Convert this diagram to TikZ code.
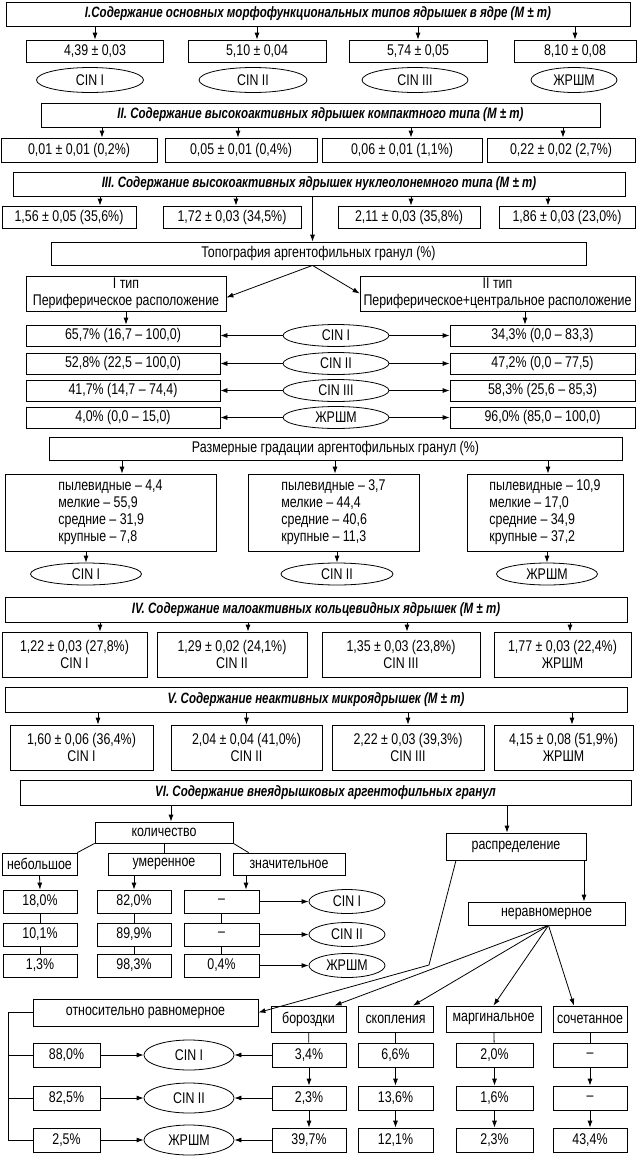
\documentclass[tikz,border=0pt]{standalone}
\usepackage{fontspec}
\setmainfont{Liberation Sans}[FakeStretch=0.8]
\newfontfamily\ttlfont{Liberation Sans}[FakeStretch=0.77]
\usetikzlibrary{shapes.geometric,arrows.meta}

\begin{document}
\begin{tikzpicture}[x=1pt, y=-1pt,
    box/.style={draw, line width=0.8pt, inner sep=1pt, align=center,
      font=\fontsize{15.5}{17}\selectfont},
    ttl/.style={box, font=\ttlfont\fontsize{15}{17}\selectfont\bfseries\itshape},
    oval/.style={draw, ellipse, line width=0.8pt, inner sep=0pt,
      font=\fontsize{15.5}{17}\selectfont},
    arr/.style={-{Latex[length=7pt, width=5pt]}, line width=0.8pt},
    ln/.style={line width=0.8pt}]

  \fill[white] (0,0) rectangle (638,1168);
  \useasboundingbox (0,0) rectangle (638,1168);

  % I. Main types
  \node[ttl, minimum width=624, minimum height=24] (tI) at (318,14)
    {I.Содержание основных морфофункциональных типов ядрышек в ядре (M ± m)};
  \node[box, minimum width=137, minimum height=22] (vI1) at (95,51) {4,39 ± 0,03};
  \node[box, minimum width=138, minimum height=22] (vI2) at (257,51) {5,10 ± 0,04};
  \node[box, minimum width=138, minimum height=22] (vI3) at (418,51) {5,74 ± 0,05};
  \node[box, minimum width=122, minimum height=22] (vI4) at (575,51) {8,10 ± 0,08};
  \node[oval, minimum width=107, minimum height=25] (eI1) at (90,80) {CIN I};
  \node[oval, minimum width=108, minimum height=25] (eI2) at (253,80) {CIN II};
  \node[oval, minimum width=106, minimum height=25] (eI3) at (415,80) {CIN III};
  \node[oval, minimum width=86, minimum height=25] (eI4) at (574,80) {ЖРШМ};

  \draw[arr] (tI.south -| vI1) -- (vI1.north);
  \draw[arr] (tI.south -| vI2) -- (vI2.north);
  \draw[arr] (tI.south -| vI3) -- (vI3.north);
  \draw[arr] (tI.south -| vI4) -- (vI4.north);

  % II. Compact type
  \node[ttl, minimum width=559, minimum height=24] (tII) at (320.5,115)
    {II. Содержание высокоактивных ядрышек компактного типа (M ± m)};
  \node[box, minimum width=156, minimum height=24] (vII1) at (79,150) {0,01 ± 0,01 (0,2\%)};
  \node[box, minimum width=152, minimum height=24] (vII2) at (241,150) {0,05 ± 0,01 (0,4\%)};
  \node[box, minimum width=160, minimum height=24] (vII3) at (402,150) {0,06 ± 0,01 (1,1\%)};
  \node[box, minimum width=148, minimum height=24] (vII4) at (561,150) {0,22 ± 0,02 (2,7\%)};

  \coordinate (aII1) at ([xshift=23pt]vII1.north);
  \coordinate (aII2) at ([xshift=-3pt]vII2.north);
  \coordinate (aII3) at ([xshift=9pt]vII3.north);
  \coordinate (aII4) at ([xshift=2pt]vII4.north);
  \draw[arr] (tII.south -| aII1) -- (aII1);
  \draw[arr] (tII.south -| aII2) -- (aII2);
  \draw[arr] (tII.south -| aII3) -- (aII3);
  \draw[arr] (tII.south -| aII4) -- (aII4);

  % III. Nucleolonema type
  \node[ttl, minimum width=612, minimum height=24] (tIII) at (319,184)
    {III. Содержание высокоактивных ядрышек нуклеолонемного типа (M ± m)};
  \node[box, minimum width=134, minimum height=22] (vIII1) at (69,217) {1,56 ± 0,05 (35,6\%)};
  \node[box, minimum width=138, minimum height=22] (vIII2) at (232,217) {1,72 ± 0,03 (34,5\%)};
  \node[box, minimum width=142, minimum height=22] (vIII3) at (409,217) {2,11 ± 0,03 (35,8\%)};
  \node[box, minimum width=136, minimum height=22] (vIII4) at (567,217) {1,86 ± 0,03 (23,0\%)};

  \coordinate (aIII1) at ([xshift=31pt]vIII1.north);
  \coordinate (aIII2) at ([xshift=4pt]vIII2.north);
  \coordinate (aIII3) at ([xshift=2pt]vIII3.north);
  \coordinate (aIII4) at ([xshift=-19pt]vIII4.north);
  \draw[arr] (tIII.south -| aIII1) -- (aIII1);
  \draw[arr] (tIII.south -| aIII2) -- (aIII2);
  \draw[arr] (tIII.south -| aIII3) -- (aIII3);
  \draw[arr] (tIII.south -| aIII4) -- (aIII4);

  % Topography of granules
  \node[box, minimum width=535, minimum height=23] (topo) at (318.5,253.5)
    {Топография аргентофильных гранул (\%)};
  \coordinate (tp) at ([xshift=-6pt]topo.south);
  \draw[arr] (tIII.south -| tp) -- (topo.north -| tp);

  \node[box, minimum width=200, minimum height=35] (typeI) at (126,293.5)
    {I тип\\Периферическое расположение};
  \node[box, minimum width=275, minimum height=35] (typeII) at (497.5,293.5)
    {II тип\\Периферическое+центральное расположение};
  \draw[arr] (tp) -- ([yshift=-4pt]typeI.east);
  \draw[arr] (tp) -- (typeII.west);

  \node[box, minimum width=194, minimum height=21] (pL1) at (123,335.5) {65,7\% (16,7 – 100,0)};
  \node[box, minimum width=194, minimum height=21] (pL2) at (123,363.5) {52,8\% (22,5 – 100,0)};
  \node[box, minimum width=194, minimum height=21] (pL3) at (123,390.5) {41,7\% (14,7 – 74,4)};
  \node[box, minimum width=194, minimum height=21] (pL4) at (123,417.5) {4,0\% (0,0 – 15,0)};
  \node[box, minimum width=185, minimum height=21] (pR1) at (542.5,335.5) {34,3\% (0,0 – 83,3)};
  \node[box, minimum width=185, minimum height=21] (pR2) at (542.5,363.5) {47,2\% (0,0 – 77,5)};
  \node[box, minimum width=185, minimum height=21] (pR3) at (542.5,390.5) {58,3\% (25,6 – 85,3)};
  \node[box, minimum width=185, minimum height=21] (pR4) at (542.5,417.5) {96,0\% (85,0 – 100,0)};
  \node[oval, minimum width=106, minimum height=22] (pE1) at (336,335.5) {CIN I};
  \node[oval, minimum width=106, minimum height=22] (pE2) at (336,363.5) {CIN II};
  \node[oval, minimum width=106, minimum height=22] (pE3) at (336,390.5) {CIN III};
  \node[oval, minimum width=106, minimum height=22] (pE4) at (336,417.5) {ЖРШМ};

  \draw[arr] (typeI.south) -- (typeI.south |- pL1.north);
  \coordinate (aR) at ([xshift=27.5pt]typeII.south);
  \draw[arr] (aR) -- (aR |- pR1.north);
  \draw[arr] (pE1) -- (pL1);
  \draw[arr] (pE1) -- (pR1);
  \draw[arr] (pE2) -- (pL2);
  \draw[arr] (pE2) -- (pR2);
  \draw[arr] (pE3) -- (pL3);
  \draw[arr] (pE3) -- (pR3);
  \draw[arr] (pE4) -- (pL4);
  \draw[arr] (pE4) -- (pR4);

  % Size gradations
  \node[box, minimum width=573, minimum height=23] (sz) at (335.5,448.5)
    {Размерные градации аргентофильных гранул (\%)};
  \node[box, align=left, minimum width=211, minimum height=77] (sz1) at (110.5,512.5)
    {пылевидные – 4,4\\мелкие – 55,9\\средние – 31,9\\крупные – 7,8};
  \node[box, align=left, minimum width=171, minimum height=77] (sz2) at (333.5,512.5)
    {пылевидные – 3,7\\мелкие – 44,4\\средние – 40,6\\крупные – 11,3};
  \node[box, align=left, minimum width=156, minimum height=77] (sz3) at (545,512.5)
    {пылевидные – 10,9\\мелкие – 17,0\\средние – 34,9\\крупные – 37,2};
  \node[oval, minimum width=111, minimum height=22] (szE1) at (86,574) {CIN I};
  \node[oval, minimum width=112, minimum height=22] (szE2) at (337,574) {CIN II};
  \node[oval, minimum width=101, minimum height=22] (szE3) at (547,574) {ЖРШМ};

  \coordinate (asz1) at ([xshift=11.5pt]sz1.north);
  \coordinate (asz2) at ([xshift=1.5pt]sz2.north);
  \coordinate (asz3) at ([xshift=3pt]sz3.north);
  \draw[arr] (sz.south -| asz1) -- (asz1);
  \draw[arr] (sz.south -| asz2) -- (asz2);
  \draw[arr] (sz.south -| asz3) -- (asz3);
  \draw[arr] (sz1.south -| szE1) -- (szE1.north);
  \draw[arr] (sz2.south -| szE2) -- (szE2.north);
  \draw[arr] (sz3.south -| szE3) -- (szE3.north);

  % IV. Ring-shaped nucleoli
  \node[ttl, minimum width=622, minimum height=25] (tIV) at (316,609.5)
    {IV. Содержание малоактивных кольцевидных ядрышек (M ± m)};
  \node[box, minimum width=145, minimum height=45] (vIV1) at (74.5,654.5) {1,22 ± 0,03 (27,8\%)\\CIN I};
  \node[box, minimum width=150, minimum height=45] (vIV2) at (232,654.5) {1,29 ± 0,02 (24,1\%)\\CIN II};
  \node[box, minimum width=158, minimum height=45] (vIV3) at (401,654.5) {1,35 ± 0,03 (23,8\%)\\CIN III};
  \node[box, minimum width=137, minimum height=45] (vIV4) at (562.5,654.5) {1,77 ± 0,03 (22,4\%)\\ЖРШМ};

  \coordinate (aIV1) at ([xshift=25.5pt]vIV1.north);
  \coordinate (aIV2) at ([xshift=16pt]vIV2.north);
  \coordinate (aIV3) at ([xshift=6pt]vIV3.north);
  \coordinate (aIV4) at ([xshift=7.5pt]vIV4.north);
  \draw[arr] (tIV.south -| aIV1) -- (aIV1);
  \draw[arr] (tIV.south -| aIV2) -- (aIV2);
  \draw[arr] (tIV.south -| aIV3) -- (aIV3);
  \draw[arr] (tIV.south -| aIV4) -- (aIV4);

  % V. Micronucleoli
  \node[ttl, minimum width=622, minimum height=25] (tV) at (316,699.5)
    {V. Содержание неактивных микроядрышек (M ± m)};
  \node[box, minimum width=143, minimum height=45] (vV1) at (81.5,747.5) {1,60 ± 0,06 (36,4\%)\\CIN I};
  \node[box, minimum width=151, minimum height=45] (vV2) at (246.5,747.5) {2,04 ± 0,04 (41,0\%)\\CIN II};
  \node[box, minimum width=152, minimum height=45] (vV3) at (408,747.5) {2,22 ± 0,03 (39,3\%)\\CIN III};
  \node[box, minimum width=139, minimum height=45] (vV4) at (563.5,747.5) {4,15 ± 0,08 (51,9\%)\\ЖРШМ};

  \coordinate (aV1) at ([xshift=16.5pt]vV1.north);
  \coordinate (aV4) at ([xshift=8.5pt]vV4.north);
  \draw[arr] (tV.south -| aV1) -- (aV1);
  \draw[arr] (tV.south -| vV2) -- (vV2.north);
  \draw[arr] (tV.south -| vV3) -- (vV3.north);
  \draw[arr] (tV.south -| aV4) -- (aV4);

  % VI. Extranucleolar granules
  \node[ttl, minimum width=611, minimum height=25] (tVI) at (325.5,792.5)
    {VI. Содержание внеядрышковых аргентофильных гранул};

  % amount
  \node[box, minimum width=138, minimum height=21] (kol) at (164,832.5) {количество};
  \node[box, minimum width=75, minimum height=22] (small) at (39.5,864) {небольшое};
  \node[box, minimum width=112, minimum height=22] (mod) at (164,864) {умеренное};
  \node[box, minimum width=112, minimum height=22] (big) at (289,864) {значительное};
  \coordinate (akol) at ([xshift=7pt]kol.north);
  \draw[arr] (tVI.south -| akol) -- (akol);
  \draw[ln] (kol.south west) -- (small.north east);
  \draw[ln] (kol.south) -- (mod.north);
  \draw[ln] (kol.south east) -- ([xshift=16pt]big.north west);

  \node[box, minimum width=74, minimum height=23] (k11) at (40,901.5) {18,0\%};
  \node[box, minimum width=74, minimum height=23] (k12) at (40,934.5) {10,1\%};
  \node[box, minimum width=74, minimum height=23] (k13) at (40,965.5) {1,3\%};
  \node[box, minimum width=74, minimum height=23] (k21) at (134,901.5) {82,0\%};
  \node[box, minimum width=74, minimum height=23] (k22) at (134,934.5) {89,9\%};
  \node[box, minimum width=74, minimum height=23] (k23) at (134,965.5) {98,3\%};
  \node[box, minimum width=75, minimum height=23] (k31) at (221.5,901.5) {–};
  \node[box, minimum width=75, minimum height=23] (k32) at (221.5,934.5) {–};
  \node[box, minimum width=75, minimum height=23] (k33) at (221.5,965.5) {0,4\%};
  \node[oval, minimum width=76, minimum height=24] (kE1) at (347,901.5) {CIN I};
  \node[oval, minimum width=76, minimum height=24] (kE2) at (347,934.5) {CIN II};
  \node[oval, minimum width=76, minimum height=24] (kE3) at (347,965.5) {ЖРШМ};

  \draw[arr] (small.south) -- (k11.north);
  \draw[arr] (k21.north |- mod.south) -- (k21.north);
  \coordinate (ak3) at ([xshift=24.5pt]k31.north);
  \draw[arr] (ak3 |- big.south) -- (ak3);
  \draw[ln] (k11) -- (k12) -- (k13);
  \draw[ln] (k21) -- (k22) -- (k23);
  \draw[ln] (k31) -- (k32) -- (k33);
  \draw[arr] (k31) -- (kE1);
  \draw[arr] (k32) -- (kE2);
  \draw[arr] (k33) -- (kE3);

  % distribution
  \node[box, minimum width=140, minimum height=27] (dist) at (516,846.5) {распределение};
  \node[box, minimum width=157, minimum height=23] (nerav) at (546.5,913.5) {неравномерное};
  \node[box, minimum width=225, minimum height=27] (otn) at (145.5,1012.5) {относительно равномерное};
  \coordinate (adist) at ([xshift=-9pt]dist.north);
  \draw[arr] (tVI.south -| adist) -- (adist);
  \coordinate (dL) at ([xshift=-60pt]dist.south);
  \coordinate (dR) at ([xshift=68pt]dist.south);
  \coordinate (bend) at (429,965);
  \draw[arr] (dR) -- (dR |- nerav.north);
  \draw[arr] (dL) -- (bend) -- (otn.east);

  \node[box, minimum width=75, minimum height=26] (bor) at (308.5,1019) {бороздки};
  \node[box, minimum width=75, minimum height=26] (sko) at (395.5,1019) {скопления};
  \node[box, minimum width=95, minimum height=26] (mar) at (493.5,1019) {маргинальное};
  \node[box, minimum width=74, minimum height=26] (soch) at (590,1019) {сочетанное};
  \coordinate (nf) at ([xshift=2pt]nerav.south);
  \draw[arr] (nf) -- ([xshift=26pt]bor.north);
  \draw[arr] (nf) -- ([xshift=17.5pt]sko.north);
  \draw[arr] (nf) -- (mar.north);
  \draw[arr] (nf) -- ([xshift=-16pt]soch.north);

  \node[box, minimum width=67, minimum height=24] (o1) at (66.5,1055) {88,0\%};
  \node[box, minimum width=67, minimum height=24] (o2) at (66.5,1098) {82,5\%};
  \node[box, minimum width=67, minimum height=24] (o3) at (66.5,1140) {2,5\%};
  \node[oval, minimum width=90, minimum height=30] (oE1) at (189,1055) {CIN I};
  \node[oval, minimum width=90, minimum height=30] (oE2) at (189,1098) {CIN II};
  \node[oval, minimum width=90, minimum height=30] (oE3) at (189,1140) {ЖРШМ};

  \node[box, minimum width=74, minimum height=24] (b1) at (309,1055) {3,4\%};
  \node[box, minimum width=74, minimum height=24] (b2) at (309,1098) {2,3\%};
  \node[box, minimum width=74, minimum height=24] (b3) at (309,1140) {39,7\%};
  \node[box, minimum width=75, minimum height=24] (s1) at (395.5,1055) {6,6\%};
  \node[box, minimum width=75, minimum height=24] (s2) at (395.5,1098) {13,6\%};
  \node[box, minimum width=75, minimum height=24] (s3) at (395.5,1140) {12,1\%};
  \node[box, minimum width=77, minimum height=24] (m1) at (494.5,1055) {2,0\%};
  \node[box, minimum width=77, minimum height=24] (m2) at (494.5,1098) {1,6\%};
  \node[box, minimum width=77, minimum height=24] (m3) at (494.5,1140) {2,3\%};
  \node[box, minimum width=74, minimum height=24] (c1) at (590,1055) {–};
  \node[box, minimum width=74, minimum height=24] (c2) at (590,1098) {–};
  \node[box, minimum width=74, minimum height=24] (c3) at (590,1140) {43,4\%};

  % bracket on the left
  \coordinate (brk) at (8,1140);
  \draw[ln] (otn.west) -| (brk) -- (o3.west);
  \draw[ln] (brk |- o1) -- (o1.west);
  \draw[ln] (brk |- o2) -- (o2.west);

  \draw[arr] (o1) -- (oE1);
  \draw[arr] (o2) -- (oE2);
  \draw[arr] (o3) -- (oE3);
  \draw[arr] (b1) -- (oE1);
  \draw[arr] (b2) -- (oE2);
  \draw[arr] (b3) -- (oE3);

  \draw[ln] (bor) -- (b1);
  \draw[arr] (b1) -- (b2);
  \draw[arr] (b2) -- (b3);
  \draw[ln] (sko) -- (s1);
  \draw[arr] (s1) -- (s2);
  \draw[arr] (s2) -- (s3);
  \draw[ln] (mar) -- (m1);
  \draw[arr] (m1) -- (m2);
  \draw[arr] (m2) -- (m3);
  \draw[ln] (soch) -- (c1);
  \draw[arr] (c1) -- (c2);
  \draw[arr] (c2) -- (c3);

\end{tikzpicture}
\end{document}
